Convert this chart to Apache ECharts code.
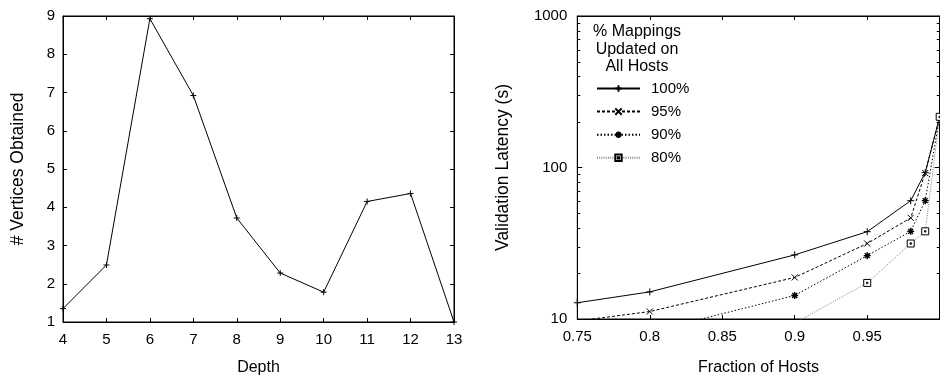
<!DOCTYPE html>
<html><head><meta charset="utf-8">
<script src="https://cdn.jsdelivr.net/npm/echarts@6/dist/echarts.min.js"></script>
<style>html,body{margin:0;padding:0;background:#fff}#c{width:940px;height:381px}</style>
</head><body><div id="c"></div>
<script>
// Left chart data
const depth = [4, 5, 6, 7, 8, 9, 10, 11, 12, 13];
const vertices = [1.35, 2.49, 8.93, 6.92, 3.72, 2.28, 1.78, 4.15, 4.36, 1.0];
// Right chart data
const fractions = [0.75, 0.8, 0.9, 0.95, 0.98, 0.99, 1.0];
const lat100 = [12.8, 15.1, 26.5, 37.7, 60.4, 92.5, 216];
const lat95 = [9.7, 11.2, 18.8, 31.5, 46.5, 92, 216];
const lat90 = [null, 8.2, 14.3, 26.2, 37.9, 60.4, 216];
const lat80 = [null, null, 9.4, 17.3, 31.5, 37.9, 216];
const seriesNames = ['100%', '95%', '90%', '80%'];
const legendTitle = ['% Mappings', 'Updated on', 'All Hosts'];
const minorY = [20, 30, 40, 50, 60, 70, 80, 90, 200, 300, 400, 500, 600, 700, 800, 900];

const FONT = "'Liberation Sans', Arial, Helvetica, sans-serif";
const pairs = (xs, ys) => xs.map((x, i) => [x, ys[i]]);

const SYM = {
  plus: 'path://M0,5L10,5M5,0L5,10',
  cross: 'path://M0,0L10,10M10,0L0,10',
  star: 'path://M0,5L10,5M5,0L5,10M1.5,1.5L8.5,8.5M8.5,1.5L1.5,8.5',
  square: 'path://M0,0L10,0L10,10L0,10ZM4,4L6,4L6,6L4,6Z'
};

function baseAxis(extra) {
  return Object.assign({
    axisLine: { show: true, lineStyle: { color: '#000', width: 1 } },
    axisTick: { show: true, inside: true, length: 4, lineStyle: { color: '#000' } },
    splitLine: { show: false },
    axisLabel: { color: '#000', fontSize: 15, fontFamily: FONT }
  }, extra);
}
function mirror(extra) {
  const a = baseAxis(extra);
  a.axisLabel = { show: false };
  return a;
}

const chart = echarts.init(document.getElementById('c'));
const option = {
  backgroundColor: '#fff',
  animation: false,
  textStyle: { fontFamily: FONT },
  title: {
    text: legendTitle.join('\n'),
    left: 637, top: 23, padding: 0,
    textAlign: 'center',
    textStyle: { fontSize: 16, fontWeight: 'normal', color: '#000', fontFamily: FONT, lineHeight: 17.5 }
  },
  legend: {
    data: seriesNames,
    orient: 'vertical',
    left: 596, top: 81, padding: 0,
    itemWidth: 43, itemHeight: 8, itemGap: 8.1,
    textStyle: { fontSize: 15, color: '#000', fontFamily: FONT, padding: [0, 0, 0, 6] }
  },
  grid: [
    { left: 63, top: 16, width: 391, height: 307.3, show: true, borderColor: '#000', borderWidth: 1, containLabel: false },
    { left: 577.3, top: 16, width: 362.4, height: 307.3, show: true, borderColor: '#000', borderWidth: 1, containLabel: false }
  ],
  xAxis: [
    baseAxis({ type: 'value', gridIndex: 0, min: 4, max: 13, interval: 1, position: 'bottom',
      axisLabel: { color: '#000', fontSize: 15, fontFamily: FONT, margin: 10 },
      name: 'Depth', nameLocation: 'middle', nameGap: 38,
      nameTextStyle: { fontSize: 16, color: '#000', fontFamily: FONT } }),
    mirror({ type: 'value', gridIndex: 0, min: 4, max: 13, interval: 1, position: 'top' }),
    baseAxis({ type: 'value', gridIndex: 1, min: 0.75, max: 1, interval: 0.05, position: 'bottom',
      axisLabel: { color: '#000', fontSize: 15, fontFamily: FONT, margin: 10, showMaxLabel: false },
      name: 'Fraction of Hosts', nameLocation: 'middle', nameGap: 41,
      nameTextStyle: { fontSize: 16, color: '#000', fontFamily: FONT } }),
    mirror({ type: 'value', gridIndex: 1, min: 0.75, max: 1, interval: 0.05, position: 'top' })
  ],
  yAxis: [
    baseAxis({ type: 'value', gridIndex: 0, min: 1, max: 9, interval: 1, position: 'left',
      axisLabel: { color: '#000', fontSize: 15, fontFamily: FONT, margin: 8 },
      name: '# Vertices Obtained', nameLocation: 'middle', nameGap: 36,
      nameTextStyle: { fontSize: 17.5, color: '#000', fontFamily: FONT } }),
    mirror({ type: 'value', gridIndex: 0, min: 1, max: 9, interval: 1, position: 'right' }),
    baseAxis({ type: 'log', logBase: 10, gridIndex: 1, min: 10, max: 1000, position: 'left',
      axisTick: { show: true, inside: true, length: 5, lineStyle: { color: '#000' } },
      axisLabel: { color: '#000', fontSize: 15, fontFamily: FONT, margin: 10, formatter: v => String(Math.round(v)) },
      name: 'Validation Latency (s)', nameLocation: 'middle', nameGap: 65,
      nameTextStyle: { fontSize: 17.5, color: '#000', fontFamily: FONT } }),
    mirror({ type: 'log', logBase: 10, gridIndex: 1, min: 10, max: 1000, position: 'right',
      axisTick: { show: true, inside: true, length: 5, lineStyle: { color: '#000' } } })
  ],
  series: [
    { type: 'line', xAxisIndex: 0, yAxisIndex: 0, data: pairs(depth, vertices),
      symbol: SYM.plus, symbolSize: 6, color: '#000',
      lineStyle: { color: '#000', width: 1 },
      itemStyle: { color: '#000', borderColor: '#000', borderWidth: 1 } },
    { name: seriesNames[0], type: 'line', xAxisIndex: 2, yAxisIndex: 2, data: pairs(fractions, lat100),
      symbol: SYM.plus, symbolSize: 7, color: '#000',
      lineStyle: { color: '#000', width: 1, type: 'solid' },
      itemStyle: { color: '#000', borderColor: '#000', borderWidth: 1 } },
    { name: seriesNames[1], type: 'line', xAxisIndex: 2, yAxisIndex: 2, data: pairs(fractions, lat95),
      symbol: SYM.cross, symbolSize: 6, color: '#000',
      lineStyle: { color: '#000', width: 1, type: [3, 2] },
      itemStyle: { color: '#000', borderColor: '#000', borderWidth: 1 } },
    { name: seriesNames[2], type: 'line', xAxisIndex: 2, yAxisIndex: 2, data: pairs(fractions, lat90),
      symbol: SYM.star, symbolSize: 7, color: '#000',
      lineStyle: { color: '#000', width: 1, type: [1.5, 2] },
      itemStyle: { color: '#000', borderColor: '#000', borderWidth: 1.4 } },
    { name: seriesNames[3], type: 'line', xAxisIndex: 2, yAxisIndex: 2, data: pairs(fractions, lat80),
      symbol: SYM.square, symbolSize: 7, color: '#777',
      lineStyle: { color: '#888', width: 1, type: [1, 1.2] },
      itemStyle: { color: '#fff', borderColor: '#000', borderWidth: 1 } },
    { type: 'custom', xAxisIndex: 2, yAxisIndex: 2, silent: true,
      data: minorY.map(v => [0.75, v]),
      encode: { x: 0, y: 1 },
      renderItem: function (params, api) {
        const v = api.value(1);
        const l = api.coord([0.75, v]);
        const r = api.coord([1, v]);
        const y = Math.round(l[1]) + 0.5;
        return { type: 'group', children: [
          { type: 'line', shape: { x1: l[0], y1: y, x2: l[0] + 3, y2: y }, style: { stroke: '#000', lineWidth: 1 } },
          { type: 'line', shape: { x1: r[0], y1: y, x2: r[0] - 3, y2: y }, style: { stroke: '#000', lineWidth: 1 } }
        ] };
      } }
  ]
};
chart.setOption(option);
</script></body></html>
